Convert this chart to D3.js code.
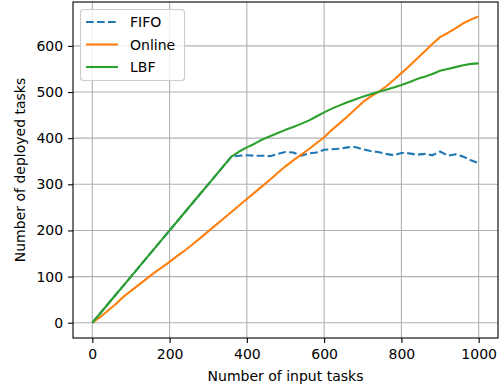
<!DOCTYPE html>
<html>
<head>
<meta charset="utf-8">
<script src="https://cdn.jsdelivr.net/npm/d3@7"></script>
<style>
  body { margin: 0; background: #fff; }
  svg text { font-family: "DejaVu Sans", sans-serif; fill: #000; }
</style>
</head>
<body>
<div id="chart"></div>
<script>
// input tasks (x values shared by all series)
var inputTasks = [0, 20, 40, 60, 80, 100, 120, 140, 160, 180, 200, 220, 240, 260, 280, 300, 320, 340, 360,
  380, 400, 420, 440, 460, 480, 500, 520, 540, 560, 580, 600, 620, 640, 660, 680, 700,
  720, 740, 760, 780, 800, 820, 840, 860, 880, 900, 920, 940, 960, 980, 1000];

var fifo = [0, 20, 40, 60, 80, 100, 120, 140, 160, 180, 200, 220, 240, 260, 280, 300, 320, 340, 360,
  362, 363, 362, 362, 361, 366, 370, 369, 362, 367, 369, 375, 376, 377, 380, 381, 376,
  372, 370, 366, 363, 368, 367, 364, 366, 363, 371, 362, 365, 360, 352, 346];

var online = [0, 12, 26, 40, 56, 69, 82, 95, 108, 120, 132, 145, 157, 170, 184, 198, 212, 226, 240,
  254, 268, 282, 296, 310, 325, 339, 352, 364, 376, 389, 402, 418, 432, 447, 462, 478,
  490, 500, 512, 526, 541, 556, 572, 588, 604, 619, 628, 638, 649, 657, 664];

var lbf = [0, 20, 40, 60, 80, 100, 120, 140, 160, 180, 200, 220, 240, 260, 280, 300, 320, 340, 360,
  371, 380, 388, 397, 404, 411, 418, 424, 431, 438, 447, 456, 464, 471, 478, 484, 490,
  495, 500, 505, 510, 515, 521, 528, 533, 539, 546, 550, 554, 558, 561, 562];

var seriesNames = ["FIFO", "Online", "LBF"];
var seriesColors = ["#1f77b4", "#ff7f0e", "#2ca02c"];
var xTicks = [0, 200, 400, 600, 800, 1000];
var yTicks = [0, 100, 200, 300, 400, 500, 600];

var svgWidth = 499;
var svgHeight = 388;
var margin = { top: 2, right: 1, bottom: 50, left: 73 };
var width = svgWidth - margin.left - margin.right;
var height = svgHeight - margin.top - margin.bottom;

var svg = d3.select("#chart")
  .append("svg")
  .attr("width", svgWidth)
  .attr("height", svgHeight);

var chartGroup = svg.append("g")
  .attr("transform", `translate(${margin.left}, ${margin.top})`);

var xScale = d3.scaleLinear().domain([-50, 1050]).range([0, width]);
var yScale = d3.scaleLinear().domain([-33.1, 695.1]).range([height, 0]);

// grid
chartGroup.append("g").selectAll("line")
  .data(xTicks).enter().append("line")
  .attr("x1", d => xScale(d)).attr("x2", d => xScale(d))
  .attr("y1", 0).attr("y2", height)
  .attr("stroke", "#b0b0b0").attr("stroke-width", 1.1);

chartGroup.append("g").selectAll("line")
  .data(yTicks).enter().append("line")
  .attr("y1", d => yScale(d)).attr("y2", d => yScale(d))
  .attr("x1", 0).attr("x2", width)
  .attr("stroke", "#b0b0b0").attr("stroke-width", 1.1);

// lines
var allSeries = [fifo, online, lbf];
var line = d3.line()
  .x((d, i) => xScale(inputTasks[i]))
  .y(d => yScale(d));

allSeries.forEach(function(values, k) {
  chartGroup.append("path")
    .datum(values)
    .attr("d", line)
    .attr("fill", "none")
    .attr("stroke", seriesColors[k])
    .attr("stroke-width", 2.1)
    .attr("stroke-linejoin", "round")
    .attr("stroke-dasharray", k === 0 ? "7.7,3.3" : null);
});

// axes
var bottomAxis = d3.axisBottom(xScale).tickValues(xTicks).tickFormat(d3.format("d"))
  .tickSize(4.9).tickPadding(6.5).tickSizeOuter(0);
var leftAxis = d3.axisLeft(yScale).tickValues(yTicks).tickFormat(d3.format("d"))
  .tickSize(4.9).tickPadding(5).tickSizeOuter(0);

var xAxisG = chartGroup.append("g")
  .attr("transform", `translate(0, ${height})`)
  .call(bottomAxis);
var yAxisG = chartGroup.append("g").call(leftAxis);

[xAxisG, yAxisG].forEach(function(g) {
  g.select(".domain").remove();
  g.selectAll(".tick line").attr("stroke", "#000").attr("stroke-width", 1.1);
  g.selectAll(".tick text").attr("font-size", "14px").attr("font-family", "DejaVu Sans");
});

// spines
chartGroup.append("rect")
  .attr("x", 0).attr("y", 0)
  .attr("width", width).attr("height", height)
  .attr("fill", "none")
  .attr("stroke", "#000")
  .attr("stroke-width", 1.1);

// axis labels
svg.append("text")
  .attr("x", margin.left + width / 2)
  .attr("y", 381)
  .attr("text-anchor", "middle")
  .attr("font-size", "14px")
  .text("Number of input tasks");

svg.append("text")
  .attr("transform", `translate(25, ${margin.top + height / 2}) rotate(-90)`)
  .attr("text-anchor", "middle")
  .attr("font-size", "14px")
  .text("Number of deployed tasks");

// legend
var legend = svg.append("g");
legend.append("rect")
  .attr("x", 80.5).attr("y", 9.5)
  .attr("width", 104).attr("height", 71)
  .attr("rx", 3)
  .attr("fill", "#fff").attr("fill-opacity", 0.8)
  .attr("stroke", "#cccccc").attr("stroke-width", 1.1);

seriesNames.forEach(function(name, k) {
  var ly = 22 + k * 22.5;
  legend.append("line")
    .attr("x1", 86).attr("x2", 118)
    .attr("y1", ly).attr("y2", ly)
    .attr("stroke", seriesColors[k])
    .attr("stroke-width", 2.1)
    .attr("stroke-dasharray", k === 0 ? "7.7,3.3" : null);
  legend.append("text")
    .attr("x", 130).attr("y", ly + 5)
    .attr("font-size", "14px")
    .text(name);
});
</script>
</body>
</html>
